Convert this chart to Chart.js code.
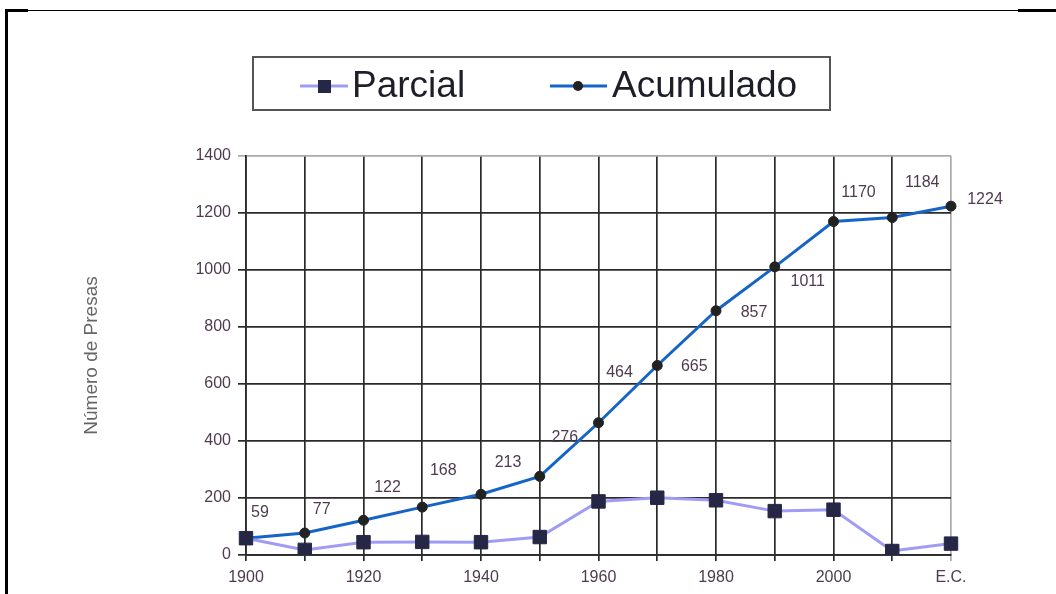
<!DOCTYPE html>
<html>
<head>
<meta charset="utf-8">
<title>Presas</title>
<script src="https://cdn.jsdelivr.net/npm/chart.js@4.4.0/dist/chart.umd.min.js"></script>
<style>
  body { margin:0; background:#fff; }
  #marco { position:absolute; left:0; top:0; width:1056px; height:594px; overflow:hidden; }
  .raya { position:absolute; background:#000; }
</style>
</head>
<body>
<div id="marco">
  <canvas id="myChart" width="1056" height="594"></canvas>
  <div class="raya" style="left:5px; top:10px; width:3px; height:584px;"></div>
  <div class="raya" style="left:5px; top:10px; width:1051px; height:1px;"></div>
  <div class="raya" style="left:5px; top:9px; width:23px; height:3px;"></div>
  <div class="raya" style="left:1018px; top:9px; width:38px; height:3px;"></div>
</div>
<script>
const anios = ["1900","1910","1920","1930","1940","1950","1960","1970","1980","1990","2000","2010","E.C."];
const parcial = [59, 18, 45, 46, 45, 63, 188, 201, 192, 154, 159, 14, 40];
const acumulado = [59, 77, 122, 168, 213, 276, 464, 665, 857, 1011, 1170, 1184, 1224];
const marcasY = [0, 200, 400, 600, 800, 1000, 1200, 1400];
const nombres = ["Parcial", "Acumulado"];

// desplazamiento de cada etiqueta respecto a su punto (px)
const despEtiqueta = [[14,-26],[17,-23],[24,-33],[21,-37],[27,-32],[25,-39],[21,-50],[37,1],[38,2],[33,15],[25,-29],[30,-35],[34,-7]];

const colorTexto = '#4e3c4e';
const fuente = '"Liberation Sans", Arial, sans-serif';

const etiquetas = {
    id: 'etiquetas',
    afterDatasetsDraw(chart){
        const ctx = chart.ctx;
        const meta = chart.getDatasetMeta(1);
        ctx.save();
        ctx.font = '16px ' + fuente;
        ctx.fillStyle = colorTexto;
        ctx.textAlign = 'center';
        ctx.textBaseline = 'middle';
        meta.data.forEach(function(p, i){
            ctx.fillText(String(acumulado[i]), p.x + despEtiqueta[i][0], p.y + despEtiqueta[i][1]);
        });
        ctx.restore();
    }
};

const leyenda = {
    id: 'leyenda',
    afterDraw(chart){
        const ctx = chart.ctx;
        ctx.save();
        ctx.strokeStyle = '#555';
        ctx.lineWidth = 2;
        ctx.strokeRect(253, 57, 577, 53);

        const cy = 86;
        // Parcial
        ctx.strokeStyle = '#a09cf5';
        ctx.lineWidth = 3;
        ctx.beginPath(); ctx.moveTo(300, cy); ctx.lineTo(348, cy); ctx.stroke();
        ctx.fillStyle = '#262645';
        ctx.fillRect(318, cy - 6, 13, 13);
        // Acumulado
        ctx.strokeStyle = '#1565c8';
        ctx.beginPath(); ctx.moveTo(550, cy); ctx.lineTo(607, cy); ctx.stroke();
        ctx.fillStyle = '#222';
        ctx.beginPath(); ctx.arc(578, cy, 5, 0, Math.PI * 2); ctx.fill();

        ctx.font = '37px ' + fuente;
        ctx.fillStyle = '#1e1e28';
        ctx.textBaseline = 'middle';
        ctx.fillText(nombres[0], 352, cy + 1);
        ctx.fillText(nombres[1], 612, cy + 1);
        ctx.restore();
    }
};

function grafico(){
    const ctx = document.getElementById('myChart').getContext('2d');
    const myChart = new Chart(ctx, {
        type: 'line',
        data: {
            labels: anios,
            datasets: [{
                label: nombres[0],
                data: parcial,
                borderColor: '#a09cf5',
                borderWidth: 3,
                pointStyle: 'rect',
                pointRadius: 9.5,
                pointBackgroundColor: '#262645',
                pointBorderColor: '#262645',
                pointBorderWidth: 1,
                tension: 0
            },{
                label: nombres[1],
                data: acumulado,
                borderColor: '#1565c8',
                borderWidth: 3,
                pointStyle: 'circle',
                pointRadius: 5,
                pointBackgroundColor: '#222',
                pointBorderColor: '#222',
                pointBorderWidth: 1,
                tension: 0
            }]
        },
        options: {
            responsive: false,
            devicePixelRatio: 1,
            animation: false,
            layout: { padding: { top: 156, right: 105, left: 0, bottom: 0 } },
            scales: {
                x: {
                    afterFit: function(s){ s.height = 39; },
                    grid: {
                        color: function(c){ return c.index === anios.length - 1 ? '#aaa' : '#2a2a2a'; },
                        lineWidth: 1.7,
                        tickLength: 6
                    },
                    border: { color: '#2a2a2a', width: 1.7 },
                    ticks: {
                        autoSkip: false,
                        maxRotation: 0,
                        padding: 7,
                        color: colorTexto,
                        font: { family: fuente, size: 16 },
                        callback: function(v, i){ return i % 2 === 0 ? anios[i] : ''; }
                    }
                },
                y: {
                    min: 0,
                    max: 1400,
                    afterFit: function(s){ s.width = 246; },
                    afterBuildTicks: function(s){ s.ticks = marcasY.map(function(v){ return { value: v }; }); },
                    grid: {
                        color: function(c){ return c.tick && c.tick.value === 1400 ? '#aaa' : '#2a2a2a'; },
                        lineWidth: 1.7,
                        tickLength: 8
                    },
                    border: { color: '#2a2a2a', width: 1.7 },
                    ticks: {
                        padding: 7,
                        color: colorTexto,
                        font: { family: fuente, size: 16 },
                        callback: function(v){ return String(v); }
                    },
                    title: {
                        display: true,
                        text: 'Número de Presas',
                        color: '#666',
                        padding: { top: 80, bottom: 0 },
                        font: { family: fuente, size: 19 }
                    }
                }
            },
            plugins: {
                legend: { display: false },
                tooltip: { enabled: false }
            }
        },
        plugins: [etiquetas, leyenda]
    });
}

window.addEventListener("load", grafico);
</script>
</body>
</html>
